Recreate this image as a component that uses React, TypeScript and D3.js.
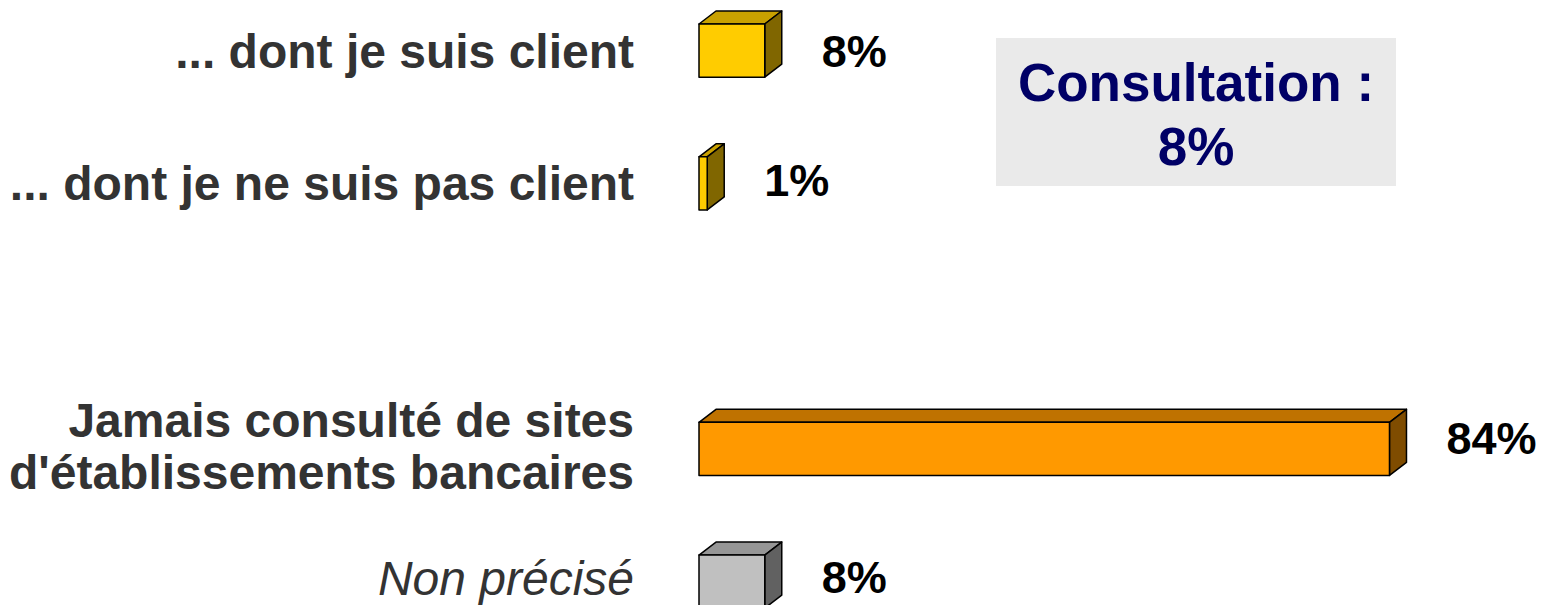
import React, { useEffect } from "react";
import * as d3 from "d3";

const categories = [
  "... dont je suis client",
  "... dont je ne suis pas client",
  "",
  "Jamais consulté de sites\nd'établissements bancaires",
  "Non précisé",
];
const values: (number | null)[] = [8, 1, null, 84, 8];
const valueLabels = ["8%", "1%", "", "84%", "8%"];
const italicRows = [false, false, false, false, true];
const frontColors = ["#FFCC00", "#FFCC00", "", "#FF9900", "#C0C0C0"];
const topColors = ["#C9A100", "#C9A100", "", "#BF7200", "#969696"];
const sideColors = ["#806600", "#806600", "", "#7F4C00", "#616161"];
const boxLines = ["Consultation :", "8%"];

const W = 1554;
const H = 605;
const DX = 17;
const DY = 13;
// vertical nudge of each value label relative to its bar's centre (layout only)
const VALUE_DY = [16, 13, 0, 5, 11];

export default function App() {
  useEffect(() => {
    document.body.style.margin = "0";
  }, []);

  const x = d3.scaleLinear().domain([0, 100]).range([699, 1521]);
  const y = d3
    .scaleBand<string>()
    .domain(categories.map((c, i) => String(i)))
    .range([-15.8, 648])
    .paddingInner(0.6)
    .paddingOuter(0.3);
  const bh = y.bandwidth();

  return (
    <svg
      width={W}
      height={H}
      style={{ position: "absolute", left: 0, top: 0, display: "block" }}
      fontFamily="Arial, 'Liberation Sans', sans-serif"
    >
      <rect width={W} height={H} fill="#ffffff" />
      {categories.map((cat, i) => {
        const yt = y(String(i)) as number;
        const cy = yt + bh / 2;
        const lines = cat.split("\n");
        const lh = 52;
        const v = values[i];
        const blockShift = lines.length > 1 ? -3 : italicRows[i] ? -4 : 0;
        return (
          <g key={i}>
            {cat !== "" &&
              lines.map((ln, k) => (
                <text
                  key={k}
                  x={634}
                  y={cy + blockShift + (k - (lines.length - 1) / 2) * lh + 17}
                  textAnchor="end"
                  fontSize={48}
                  fontWeight={italicRows[i] ? "normal" : "bold"}
                  fontStyle={italicRows[i] ? "italic" : "normal"}
                  fill="#333333"
                >
                  {ln}
                </text>
              ))}
            {v !== null && (
              <g stroke="#000" strokeWidth={1.5} strokeLinejoin="round">
                <polygon
                  points={`${x(0)},${yt} ${x(0) + DX},${yt - DY} ${x(v) + DX},${yt - DY} ${x(v)},${yt}`}
                  fill={topColors[i]}
                />
                <polygon
                  points={`${x(v)},${yt} ${x(v) + DX},${yt - DY} ${x(v) + DX},${yt + bh - DY} ${x(v)},${yt + bh}`}
                  fill={sideColors[i]}
                />
                <rect x={x(0)} y={yt} width={x(v) - x(0)} height={bh} fill={frontColors[i]} />
              </g>
            )}
            {v !== null && (
              <text
                x={x(v) + DX + 40}
                y={cy + VALUE_DY[i]}
                fontSize={45}
                fontWeight="bold"
                fill="#000"
              >
                {valueLabels[i]}
              </text>
            )}
          </g>
        );
      })}
      <rect x={996} y={38} width={400} height={148} fill="#EAEAEA" />
      {boxLines.map((t, k) => (
        <text
          key={k}
          x={1196}
          y={101 + k * 64}
          textAnchor="middle"
          fontSize={53}
          fontWeight="bold"
          fill="#000066"
        >
          {t}
        </text>
      ))}
    </svg>
  );
}
